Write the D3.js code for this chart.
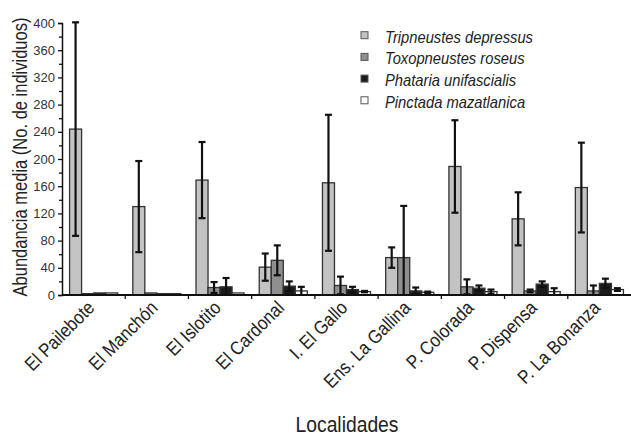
<!DOCTYPE html>
<html><head><meta charset="utf-8">
<script src="https://cdn.jsdelivr.net/npm/d3@7"></script>
<style>body{margin:0;background:#fff}svg{display:block}</style>
</head><body><svg id="c" width="631" height="436"></svg>
<script>
const localidades = ["El Pailebote","El Manchón","El Islotito","El Cardonal","I. El Gallo","Ens. La Gallina","P. Colorada","P. Dispensa","P. La Bonanza"];
const especies = ["Tripneustes depressus","Toxopneustes roseus","Phataria unifascialis","Pinctada mazatlanica"];
const tripneustes = [244,130,169,41,165,55,189,112,158];
const tripneustesErr = [157,67,56,20,100,15,68,39,66];
const toxopneustes = [2,3,11,51,14,55,12,6,6];
const toxopneustesErr = [0,0,8,22,13,76,11,2,8];
const phataria = [3,2,12,13,8,6,10,16,17];
const phatariaErr = [0,0,13,7,4,5,4,4,7];
const pinctada = [3,2,3,6,5,4,5,5,8];
const pinctadaErr = [0,0,0,6,1,1,3,5,2];
const yTicks = [0,40,80,120,160,200,240,280,320,360,400];
const colores = ["#c3c3c3","#8f8f8f","#1c1c1c","#ffffff"];

const series = [tripneustes,toxopneustes,phataria,pinctada];
const errs = [tripneustesErr,toxopneustesErr,phatariaErr,pinctadaErr];
const FONT = "Liberation Sans, Arial, sans-serif";
const TXT = "#222";

function condense(sel, factor){
  sel.each(function(){
    const w = this.getComputedTextLength();
    d3.select(this).attr("textLength", w*factor).attr("lengthAdjust","spacingAndGlyphs");
  });
}

const svg = d3.select("#c");
const m = {l:62, t:23, b:141};
const W = 631, H = 436;
const x0 = d3.scaleBand().domain(localidades).range([m.l, W]).padding(0);
const x1 = d3.scaleBand().domain(d3.range(4)).range([0, x0.bandwidth()]).paddingInner(0).paddingOuter(0.63);
const y = d3.scaleLinear().domain([0,400]).range([H-m.b, m.t]);

// bars
const g = svg.append("g");
localidades.forEach((loc,i)=>{
  series.forEach((s,k)=>{
    const bx = x0(loc)+x1(k);
    g.append("rect").attr("x",bx).attr("y",y(s[i])).attr("width",x1.bandwidth()).attr("height",y(0)-y(s[i]))
      .attr("fill",colores[k]).attr("stroke","#333").attr("stroke-width",1.3);
  });
});
// error bars
localidades.forEach((loc,i)=>{
  series.forEach((s,k)=>{
    const e = errs[k][i]; if(!e) return;
    const cx = x0(loc)+x1(k)+x1.bandwidth()/2;
    const hi = s[i]+e, lo = Math.max(0, s[i]-e);
    g.append("line").attr("x1",cx).attr("x2",cx).attr("y1",y(hi)).attr("y2",y(lo)).attr("stroke","#111").attr("stroke-width",2.2);
    g.append("line").attr("x1",cx-3.5).attr("x2",cx+3.5).attr("y1",y(hi)).attr("y2",y(hi)).attr("stroke","#111").attr("stroke-width",2.2);
    if(s[i]-e>0) g.append("line").attr("x1",cx-3.5).attr("x2",cx+3.5).attr("y1",y(lo)).attr("y2",y(lo)).attr("stroke","#111").attr("stroke-width",2.2);
  });
});

// y axis
const ya = svg.append("g").attr("transform",`translate(${m.l},0)`)
  .call(d3.axisLeft(y).tickValues(yTicks).tickSize(4).tickPadding(3).tickFormat(d3.format("d")));
ya.select(".domain").attr("stroke","#111").attr("stroke-width",1.5);
ya.selectAll(".tick line").attr("stroke","#111").attr("stroke-width",1.3);
ya.selectAll("text").attr("font-family",FONT).attr("font-size",13).attr("fill","#333");
const yminor = svg.append("g").attr("transform",`translate(${m.l},0)`)
  .call(d3.axisLeft(y).tickValues(d3.range(20,400,40)).tickSize(3).tickFormat(""));
yminor.select(".domain").remove();
yminor.selectAll(".tick line").attr("stroke","#111").attr("stroke-width",1.3);

// x axis
const xa = svg.append("g").attr("transform",`translate(0,${y(0)})`)
  .call(d3.axisBottom(x0).tickSize(0).tickFormat(""));
xa.select(".domain").attr("stroke","#111").attr("stroke-width",1.8).attr("d",`M${m.l},0H${W}`);
xa.selectAll(".tick").remove();
localidades.slice(1).forEach(loc=>{
  xa.append("line").attr("x1",x0(loc)).attr("x2",x0(loc)).attr("y1",0).attr("y2",4).attr("stroke","#111").attr("stroke-width",1.3);
});
const xl = xa.selectAll("text.xl").data(localidades).enter().append("text").attr("class","xl")
  .attr("transform",d=>`translate(${x0(d)+x0.bandwidth()/2+2},14) rotate(-45)`)
  .attr("text-anchor","end").attr("font-family",FONT).attr("font-size",19).attr("fill",TXT).text(d=>d);
condense(xl, 0.88);

// titles
const yt = svg.append("text").attr("text-anchor","middle")
  .attr("font-family",FONT).attr("font-size",20.5).attr("fill",TXT).text("Abundancia media (No. de individuos)");
const ys = 279/yt.node().getComputedTextLength();
yt.attr("transform",`translate(27,157) rotate(-90) scale(${ys},1)`);
const xt = svg.append("text").attr("text-anchor","middle")
  .attr("font-family",FONT).attr("font-size",23).attr("fill",TXT).text("Localidades");
const xs = 103/xt.node().getComputedTextLength();
xt.attr("transform",`translate(347,432) scale(${xs},1)`);

// legend
const lg = svg.append("g");
especies.forEach((sp,k)=>{
  const by = 42.7 + k*21.7;
  lg.append("rect").attr("x",361).attr("y",by-11).attr("width",7).attr("height",7)
    .attr("fill",colores[k]).attr("stroke","#555").attr("stroke-width",1);
  lg.append("text").attr("class","lgt").attr("x",385).attr("y",by).attr("font-family",FONT).attr("font-style","italic")
    .attr("font-size",16.5).attr("fill",TXT).text(sp);
});
const first = lg.select("text.lgt").node();
const lf = 148/first.getComputedTextLength();
condense(lg.selectAll("text.lgt"), lf);
</script></body></html>
